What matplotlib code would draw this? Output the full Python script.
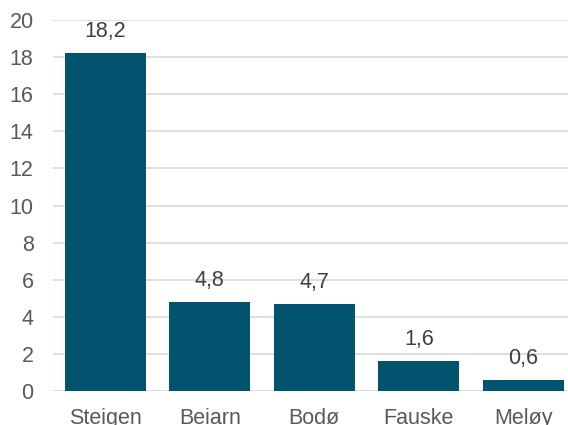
import matplotlib.pyplot as plt

plt.rcParams['font.family'] = ['Liberation Sans', 'DejaVu Sans']

kommuner = ["Steigen", "Beiarn", "Bodø", "Fauske", "Meløy"]
verdier = [18.2, 4.8, 4.7, 1.6, 0.6]

fig = plt.figure(figsize=(5.68, 4.25), dpi=100)
ax = fig.add_axes([53 / 568, 34 / 425, 522.5 / 568, 371 / 425])

bars = ax.bar(kommuner, verdier, width=0.775, color="#02536e", zorder=3)
ax.bar_label(bars, labels=[f"{v:.1f}".replace(".", ",") for v in verdier],
             padding=8, fontsize=15.5, color="#404040")

ax.set_xlim(-0.5, 4.5)
ax.set_ylim(0, 20)
ax.set_yticks(range(0, 21, 2))
ax.yaxis.grid(True, color="#d9d9d9", linewidth=1.2, zorder=0)
ax.set_axisbelow(True)
for s in ax.spines.values():
    s.set_visible(False)
ax.tick_params(axis="y", length=0, pad=14, labelsize=15.5, labelcolor="#595959")
ax.tick_params(axis="x", length=0, pad=12.5, labelsize=15.5, labelcolor="#595959")

fig.savefig("out.png", dpi=100)
